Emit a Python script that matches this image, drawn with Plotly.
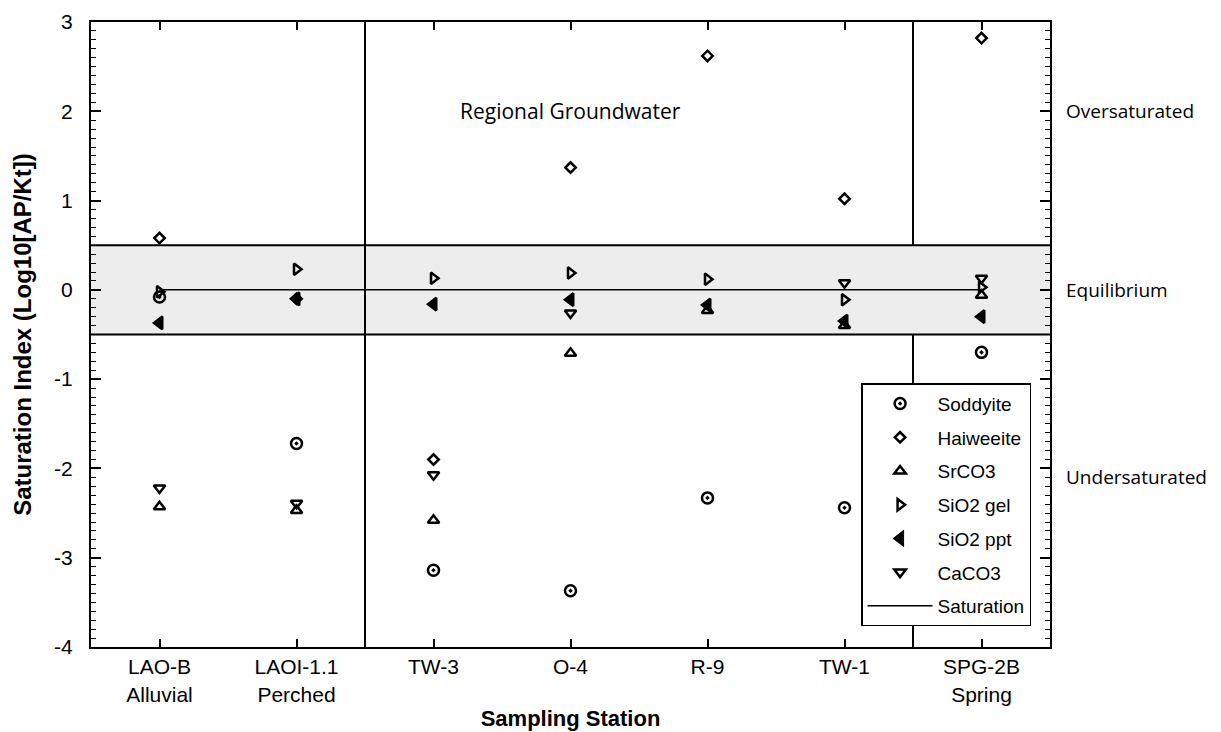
import plotly.graph_objects as go

# sampling stations (x categories)
stations = ["LAO-B", "LAOI-1.1", "TW-3", "O-4", "R-9", "TW-1", "SPG-2B"]
tick_text = ["LAO-B<br>Alluvial", "LAOI-1.1<br>Perched", "TW-3", "O-4", "R-9",
             "TW-1", "SPG-2B<br>Spring"]

# saturation index values
soddyite  = [-0.08, -1.72, -3.14, -3.37, -2.33, -2.44, -0.70]
haiweeite = [0.58, -0.10, -1.90, 1.37, 2.62, 1.02, 2.82]
srco3     = [-2.43, -2.47, -2.58, -0.71, -0.23, -0.40, -0.06]
sio2_gel  = [-0.02, 0.23, 0.13, 0.19, 0.12, -0.11, 0.03]
sio2_ppt  = [-0.37, -0.10, -0.16, -0.11, -0.17, -0.35, -0.30]
caco3     = [-2.22, -2.39, -2.07, -0.26, None, 0.08, 0.13]
saturation = [0, 0]

y_ticks = [3, 2, 1, 0, -1, -2, -3, -4]
zones = ["Oversaturated", "Equilibrium", "Undersaturated"]
zone_y = [2.0, 0.0, -2.1]

series = [
    ("Soddyite", soddyite, "circle-open-dot", 11),
    ("Haiweeite", haiweeite, "diamond-open", 8),
    ("SrCO3", srco3, "triangle-up-open", 10),
    ("SiO2 gel", sio2_gel, "triangle-right-open", 10),
    ("SiO2 ppt", sio2_ppt, "triangle-left", 11),
    ("CaCO3", caco3, "triangle-down-open", 10),
]

fig = go.Figure()
for name, vals, sym, sz in series:
    fig.add_trace(go.Scatter(
        x=stations, y=vals, mode="markers", name=name, legendgroup=name,
        marker=dict(symbol=sym, size=sz, color="black",
                    line=dict(color="black", width=2.5)),
    ))
fig.add_trace(go.Scatter(
    x=[stations[0], stations[-1]], y=saturation, mode="lines", name="Saturation",
    legendgroup="sat", line=dict(color="black", width=1.5),
))

# equilibrium band
fig.add_shape(type="rect", xref="x", yref="y", x0=-0.5, x1=6.5, y0=-0.5, y1=0.5,
              fillcolor="#ededed", line=dict(width=0), layer="below")
for yy in (0.5, -0.5):
    fig.add_shape(type="line", xref="x", yref="y", x0=-0.5, x1=6.5, y0=yy, y1=yy,
                  line=dict(color="black", width=2), layer="below")
fig.add_shape(type="line", xref="x", yref="y", x0=1.5, x1=1.5, y0=-4, y1=3,
              line=dict(color="black", width=2), layer="below")
fig.add_shape(type="line", xref="x", yref="y", x0=5.5, x1=5.5, y0=0.5, y1=3,
              line=dict(color="black", width=2), layer="below")
fig.add_shape(type="line", xref="x", yref="y", x0=5.5, x1=5.5, y0=-4, y1=-0.5,
              line=dict(color="black", width=2), layer="below")

fig.add_annotation(x=3, y=2.0, xref="x", yref="y", text="Regional Groundwater",
                   showarrow=False, font=dict(family="Open Sans", size=21, color="black"))
for txt, yy in zip(zones, zone_y):
    fig.add_annotation(x=1.015, y=yy, xref="paper", yref="y", text=txt,
                       xanchor="left", showarrow=False,
                       font=dict(family="Open Sans", size=19, color="black"))

fig.update_layout(
    width=1221, height=732,
    margin=dict(l=83, r=179, t=14, b=93, autoexpand=False),
    plot_bgcolor="white", paper_bgcolor="white",
    font=dict(family="Liberation Sans, Arial", color="black"),
    showlegend=True,
    legend=dict(x=0.803, y=0.422, xanchor="left", yanchor="top",
                bgcolor="white", bordercolor="black", borderwidth=1.5,
                font=dict(family="Liberation Sans, Arial", size=19),
                tracegroupgap=6, itemwidth=65),
    xaxis=dict(type="category", range=[-0.5, 6.5], automargin=False,
               tickvals=stations, ticktext=tick_text,
               tickfont=dict(family="Liberation Sans, Arial", size=21, color="black"),
               ticks="inside", ticklen=8, tickwidth=1.5, tickcolor="black",
               showline=True, linecolor="black", linewidth=2, mirror="ticks",
               showgrid=False, zeroline=False,
               title=dict(text="<b>Sampling Station</b>", standoff=6,
                          font=dict(family="Liberation Sans, Arial", size=22))),
    yaxis=dict(range=[-4, 3], tickvals=y_ticks, ticktext=[str(v) for v in y_ticks],
               automargin=False, ticklabeloverflow="allow",
               tickfont=dict(family="Liberation Sans, Arial", size=21, color="black"),
               ticks="inside", ticklen=10, tickwidth=1.5, tickcolor="black",
               minor=dict(dtick=0.1, ticks="inside", ticklen=5, tickwidth=1, tickcolor="black"),
               showline=True, linecolor="black", linewidth=2, mirror="ticks",
               showgrid=False, zeroline=False, ticklabelstandoff=12,
               title=dict(text="<b>Saturation Index (Log10[AP/Kt])</b>", standoff=16,
                          font=dict(family="Liberation Sans, Arial", size=24))),
)

fig.write_html("out.html")
